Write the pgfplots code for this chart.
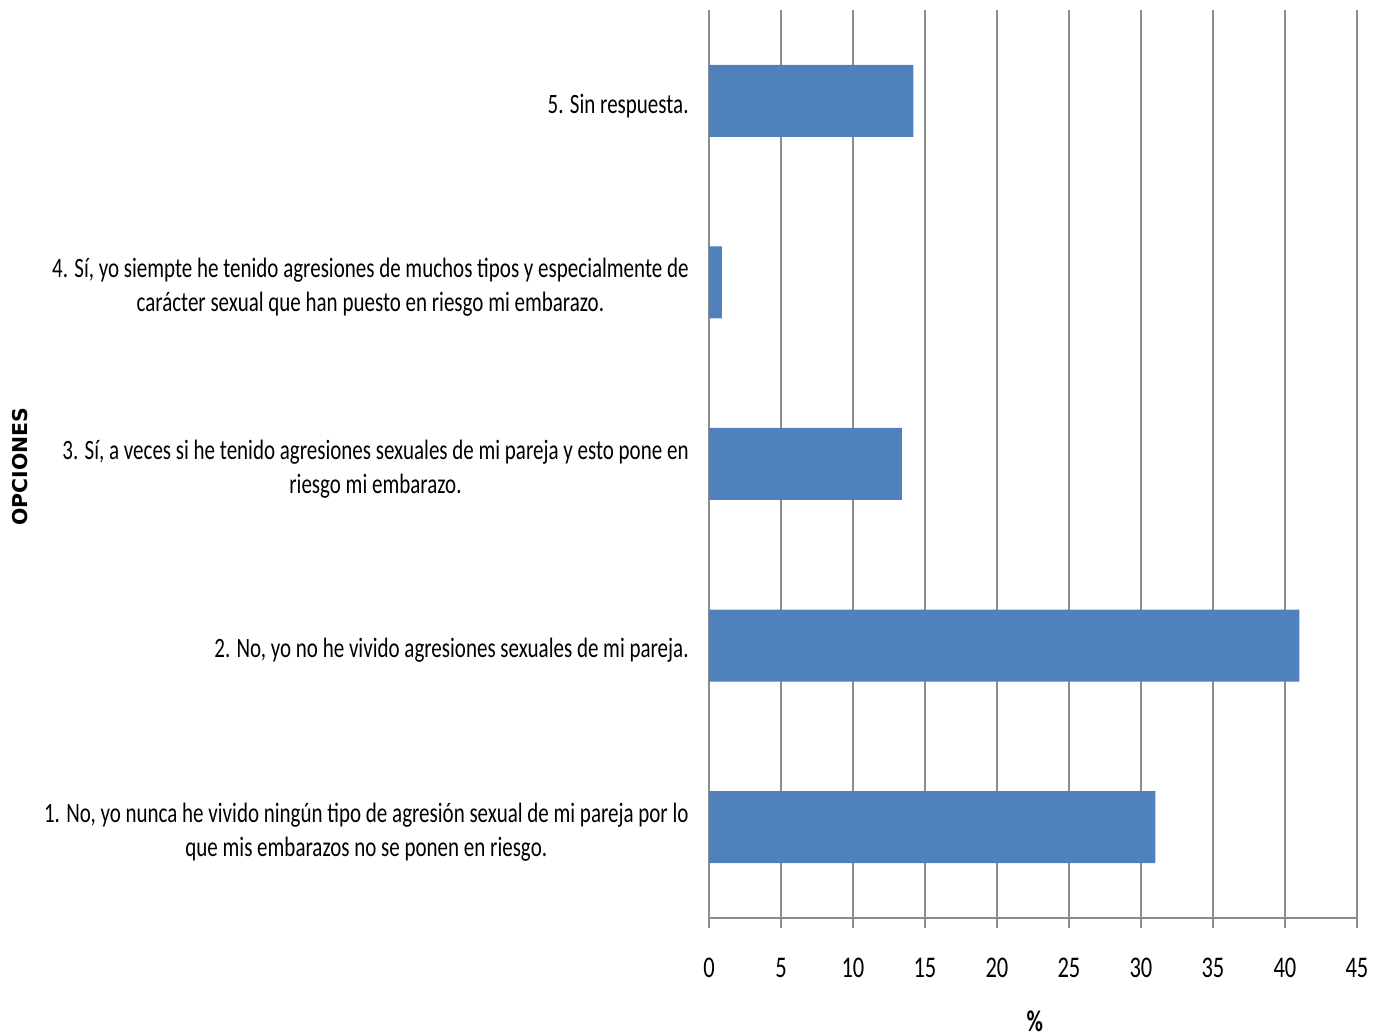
\documentclass[border=0pt]{standalone}
\usepackage{fontspec}
\setmainfont{Carlito}[FakeStretch=0.75]
\newfontfamily\ylfont{DejaVu Sans}
\usepackage{pgfplots}
\pgfplotsset{compat=1.18}
\definecolor{barblue}{HTML}{4F81BD}
\definecolor{gridgray}{HTML}{8C8C8C}

\begin{document}
\begin{tikzpicture}
\begin{axis}[
  xbar,
  scale only axis,
  width=324pt, height=454pt,
  xmin=0, xmax=45, ymin=0.5, ymax=5.5,
  xtick={0,5,...,45},
  ytick={1,2,3,4,5},
  yticklabels={
    {1. No, yo nunca he vivido ningún tipo de agresión sexual de mi pareja por lo\\que mis embarazos no se ponen en riesgo.},
    {2. No, yo no he vivido agresiones sexuales de mi pareja.},
    {3. Sí, a veces si he tenido agresiones sexuales de mi pareja y esto pone en\\riesgo mi embarazo.},
    {4. Sí, yo siempte he tenido agresiones de muchos tipos y especialmente de\\carácter sexual que han puesto en riesgo mi embarazo.},
    {5. Sin respuesta.}
  },
  /pgf/number format/assume math mode=true,
  yticklabel style={align=center, anchor=east, inner sep=0pt, xshift=-5pt, yshift=-2.5pt,
    font=\fontsize{14}{17}\selectfont},
  xticklabel style={anchor=center, inner sep=0pt, yshift=-20pt,
    font=\fontsize{15}{18}\selectfont},
  axis x line*=bottom,
  axis y line*=left,
  axis line style={gridgray, line width=0.8pt, -},
  xmajorgrids,
  major grid style={gridgray, line width=0.8pt},
  ytick style={draw=none},
  xtick style={gridgray, line width=0.8pt},
  tick align=outside,
  major tick length=5pt,
  xlabel={\bfseries\%},
  xlabel style={at={(axis description cs:0.503,0)}, anchor=center, yshift=-51.5pt,
    font=\fontsize{15}{18}\selectfont},
  ylabel={\ylfont\bfseries OPCIONES},
  ylabel style={at={(axis description cs:-1.0633,0.497)}, anchor=center,
    font=\fontsize{10.2}{12}\selectfont},
]
\addplot[fill=barblue, draw=none, bar width=36pt] coordinates {(31,1) (41,2) (13.4,3) (0.9,4) (14.2,5)};
\end{axis}
\pgfresetboundingbox
\path (-354.5pt,-59pt) rectangle (332pt,459pt);
\end{tikzpicture}
\end{document}
